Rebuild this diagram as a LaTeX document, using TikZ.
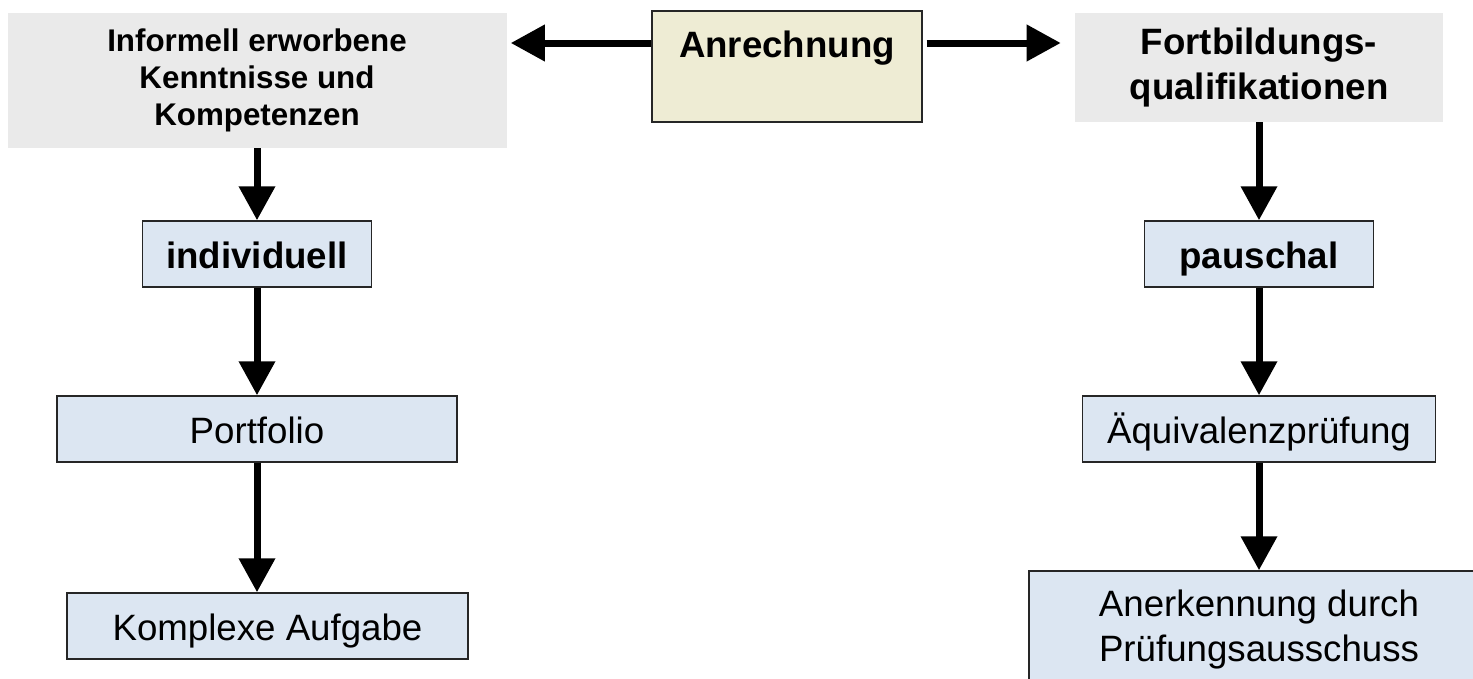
\documentclass[tikz,border=0pt]{standalone}
\usepackage{fontspec}
\setmainfont{Liberation Sans}
\usetikzlibrary{arrows.meta}
\definecolor{boxgray}{HTML}{EAEAEA}
\definecolor{boxblue}{HTML}{DCE6F2}
\definecolor{boxyellow}{HTML}{EEECD4}
\definecolor{boxline}{HTML}{262626}
\begin{document}
\begin{tikzpicture}[x=0.75pt, y=-0.75pt,
		graybox/.style={fill=boxgray, inner sep=0pt, align=center, font=\bfseries},
		bluebox/.style={fill=boxblue, draw=boxline, line width=1.1pt, inner sep=0pt, align=center, minimum height=49.5pt, font=\fontsize{27.5}{33.75}\selectfont},
		oneline/.style={text height=21pt, text depth=0pt},
		flow/.style={line width=5.25pt, -{Triangle[length=25.5pt, width=26.25pt]}}]
	\useasboundingbox (0,0) rectangle (1473,678);
	\clip (0,0) rectangle (1473,678);
	% top row
	\node[graybox, minimum width=374.25pt, minimum height=101.25pt, font=\fontsize{23.5}{28}\selectfont\bfseries] (infor) at (257,80.5) {Informell erworbene\\Kenntnisse und\\Kompetenzen};
	\node[fill=boxyellow, draw=boxline, line width=1.1pt, minimum width=202.5pt, minimum height=83.25pt] (anr) at (787,66.5) {};
	\node[oneline, inner sep=0pt, font=\fontsize{27.5}{33.75}\selectfont\bfseries] (anrtext) at (787,43) {Anrechnung};
	\node[graybox, minimum width=276pt, minimum height=81.75pt, font=\fontsize{27.5}{33.75}\selectfont\bfseries] (fort) at (1259,67.5) {Fortbildungs-\\qualifikationen};
	% left column
	\node[bluebox, oneline, minimum width=171.75pt, font=\fontsize{27.5}{33.75}\selectfont\bfseries] (indiv) at (257,254) {individuell};
	\node[bluebox, oneline, minimum width=300pt] (port) at (257,429) {Portfolio};
	\node[bluebox, oneline, minimum width=300.75pt] (komp) at (267.5,626) {Komplexe Aufgabe};
	% right column
	\node[bluebox, oneline, minimum width=171.75pt, font=\fontsize{27.5}{33.75}\selectfont\bfseries] (pausch) at (1259,254) {pauschal};
	\node[bluebox, oneline, minimum width=264.75pt] (aequi) at (1259,429) {Äquivalenzprüfung};
	\node[bluebox, minimum width=345pt, minimum height=88.5pt] (anerk) at (1259,630) {Anerkennung durch\\Prüfungsausschuss};
	% arrows
	\draw[flow, shorten >=3pt] (anrtext -| anr.west) -- (anrtext -| infor.east);
	\draw[flow, shorten <=3pt, shorten >=10.5pt] (anrtext -| anr.east) -- (anrtext -| fort.west);
	\draw[flow] (infor.south) -- (indiv.north);
	\draw[flow] (indiv.south) -- (port.north);
	\draw[flow] (port.south) -- (port.south |- komp.north);
	\draw[flow] (fort.south) -- (pausch.north);
	\draw[flow] (pausch.south) -- (aequi.north);
	\draw[flow] (aequi.south) -- (anerk.north);
\end{tikzpicture}
\end{document}
